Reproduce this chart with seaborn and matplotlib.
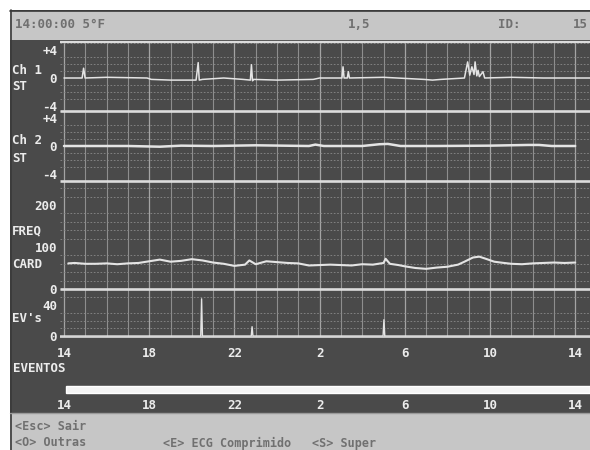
import matplotlib
matplotlib.use("Agg")
import matplotlib.pyplot as plt
import seaborn as sns
from matplotlib.patches import Rectangle
from matplotlib.ticker import MultipleLocator

# ---------------- data ----------------
tick_hours = [0, 4, 8, 12, 16, 20, 24]
tick_labels = ["14", "18", "22", "2", "6", "10", "14"]

ch1_hours = [0.0, 0.85, 0.92, 0.99, 2.0, 3.9, 4.1, 5.0, 6.2, 6.3, 6.35, 6.5,
             7.5, 8.4, 8.75, 8.8, 8.85, 8.9, 10.0, 11.7, 12.0, 13.05, 13.1,
             13.15, 13.3, 13.35, 13.4, 15.0, 16.9, 17.3, 17.7, 18.8, 18.95,
             19.05, 19.15, 19.25, 19.3, 19.38, 19.44, 19.5, 19.67, 19.75,
             21.0, 22.5, 24.7]
ch1_st = [0.0, 0.0, 1.4, 0.0, 0.1, 0.0, -0.2, -0.3, -0.3, 2.2, -0.3, -0.2,
          0.0, -0.2, -0.3, 1.9, -0.4, -0.2, -0.3, -0.2, 0.0, 0.0, 1.6,
          0.0, 0.0, 0.9, 0.0, 0.1, -0.2, -0.3, -0.2, 0.0, 2.3,
          0.4, 1.6, 0.5, 2.3, 0.3, 1.1, 0.2, 0.9, 0.0,
          0.1, 0.0, 0.0]

ch2_hours = [0.0, 3.0, 4.5, 5.5, 7.0, 9.0, 11.5, 11.8, 12.2, 14.0, 14.8,
             15.2, 15.8, 17.5, 20.0, 21.8, 22.3, 22.9, 24.0]
ch2_st = [0.0, 0.0, -0.1, 0.05, 0.0, 0.1, 0.0, 0.2, 0.0, 0.0, 0.25,
          0.3, 0.0, 0.0, 0.05, 0.15, 0.15, 0.0, 0.0]

hr_hours = [0.2, 0.5, 1.0, 1.5, 2.0, 2.5, 3.0, 3.5, 4.0, 4.5,
            5.0, 5.5, 6.0, 6.5, 7.0, 7.5, 8.0, 8.5, 8.7, 9.0,
            9.5, 10.0, 10.5, 11.0, 11.5, 12.0, 12.5, 13.0, 13.5, 14.0,
            14.5, 15.0, 15.1, 15.3, 15.7, 16.0, 16.5, 17.0, 17.5, 18.0,
            18.5, 18.8, 19.2, 19.5, 19.8, 20.2, 20.5, 21.0, 21.5, 22.0,
            22.5, 23.0, 23.5, 24.0]
hr_bpm = [61, 62, 60, 60, 61, 59, 61, 62, 66, 70,
          65, 67, 71, 68, 63, 60, 55, 58, 68, 59,
          66, 64, 62, 61, 56, 57, 58, 57, 56, 59,
          58, 62, 72, 60, 57, 54, 50, 48, 51, 53,
          58, 65, 75, 77, 72, 65, 63, 60, 59, 61,
          62, 63, 62, 63]

ev_hours = [-0.2, 6.42, 6.46, 6.5, 8.79, 8.83, 8.87, 14.98, 15.02, 15.06, 24.7]
ev_count = [0, 0, 48, 0, 0, 12, 0, 0, 21, 0, 0]

event_start, event_end = 0.1, 24.7

# ---------------- style ----------------
W, H = 590, 450
DARK = "#4a4a4a"
LIGHT = "#c6c6c6"
GRID = "#8e8e8e"
TRACE = "#e4e4e4"
WHITE = "#ececec"
HDR_TXT = "#707070"

sns.set_theme(style="dark")
plt.rcParams["font.family"] = ["DejaVu Sans Mono", "DejaVu Sans"]
plt.rcParams["font.weight"] = "bold"

fig = plt.figure(figsize=(W / 100, H / 100), dpi=100)
fig.patch.set_facecolor("white")


def px_axes(x0, y0, x1, y1, **kw):
    return fig.add_axes([x0 / W, 1 - y1 / H, (x1 - x0) / W, (y1 - y0) / H], **kw)


bg = px_axes(0, 0, W, H, zorder=0)
bg.set_xlim(0, W)
bg.set_ylim(H, 0)
bg.axis("off")
bg.add_patch(Rectangle((10, 10), 580, 440, fc=DARK, ec="none"))
bg.add_patch(Rectangle((10, 11), 580, 29, fc=LIGHT, ec="none"))
bg.add_patch(Rectangle((10, 414), 580, 36, fc=LIGHT, ec="none"))
bg.plot([10, 590], [10.5, 10.5], color="#3a3a3a", lw=1.2)
bg.plot([10.5, 10.5], [10, 450], color="#3a3a3a", lw=1.2)
bg.plot([10, 590], [413, 413], color="#9a9a9a", lw=1.0)

T0 = (60 - 64) / 21.3
T1 = (590 - 64) / 21.3


def setup(ax, ylim, yticks, ylabels, ystep):
    ax.set_facecolor("none")
    ax.set_xlim(T0, T1)
    ax.set_ylim(*ylim)
    for s in ax.spines.values():
        s.set_visible(False)
    ax.xaxis.set_minor_locator(MultipleLocator(1))
    ax.set_xticks(tick_hours)
    ax.set_xticklabels([])
    ax.grid(False)
    ax.grid(True, which="minor", axis="x", color=GRID, lw=0.8)
    ax.grid(True, which="major", axis="x", color="#a4a4a4", lw=0.9)
    ax.yaxis.set_minor_locator(MultipleLocator(ystep))
    ax.grid(True, which="minor", axis="y", color="#8a8a8a", lw=0.6,
            linestyle=(0, (2, 2)))
    ax.set_yticks(yticks)
    ax.set_yticklabels(ylabels)
    ax.tick_params(axis="y", which="both", length=0, pad=2, colors=WHITE,
                   labelsize=9)
    ax.tick_params(axis="x", which="both", length=0)
    ax.set_xlabel("")
    ax.set_ylabel("")


ax1 = px_axes(60, 42, 590, 111, zorder=2)
setup(ax1, (-33 / 7, 36 / 7), [-4, 0, 4], ["-4", "0", "+4"], 1)
sns.lineplot(x=ch1_hours, y=ch1_st, ax=ax1, color=TRACE, lw=1.1,
             estimator=None, sort=False)

ax2 = px_axes(60, 111, 590, 181, zorder=2)
setup(ax2, (-5, 5), [-4, 0, 4], ["-4", "0", "+4"], 1)
sns.lineplot(x=ch2_hours, y=ch2_st, ax=ax2, color=TRACE, lw=1.8,
             estimator=None, sort=False)

ax3 = px_axes(60, 181, 590, 289, zorder=2)
setup(ax3, (0, 108 / 0.42), [0, 100, 200], ["0", "100", "200"], 20)
sns.lineplot(x=hr_hours, y=hr_bpm, ax=ax3, color=TRACE, lw=1.5,
             estimator=None, sort=False)

ax4 = px_axes(60, 289, 590, 337, zorder=2)
setup(ax4, (-1 / 0.775, 47 / 0.775), [0, 40], ["0", "40"], 10)
sns.lineplot(x=ev_hours, y=ev_count, ax=ax4, color=TRACE, lw=1.0,
             estimator=None, sort=False)
ax4.set_xticklabels(tick_labels)
ax4.tick_params(axis="x", which="major", length=5, width=0.9, color="#a4a4a4",
                pad=2, labelsize=9, labelcolor=WHITE)

ax5 = px_axes(60, 380, 590, 398, zorder=2)
ax5.set_facecolor("none")
ax5.set_xlim(T0, T1)
ax5.set_ylim(0, 1)
for s in ax5.spines.values():
    s.set_visible(False)
ax5.barh(y=0.47, width=event_end - event_start, left=event_start, height=0.4,
         color="#f4f4f4")
ax5.set_yticks([])
ax5.set_xticks(tick_hours)
ax5.set_xticklabels(tick_labels)
ax5.grid(False)
ax5.tick_params(axis="x", length=0, pad=1, labelsize=9, labelcolor=WHITE)

# overlay: separators and text
ov = px_axes(0, 0, W, H, zorder=5)
ov.set_facecolor("none")
ov.set_xlim(0, W)
ov.set_ylim(H, 0)
ov.axis("off")
for yy, lw in [(42, 1.6), (111, 1.9), (181, 1.9), (289, 1.9), (337, 1.2)]:
    ov.plot([60, 590], [yy, yy], color="#dcdcdc", lw=lw, solid_capstyle="butt")

kw_hdr = dict(color=HDR_TXT, fontsize=9, va="center", ha="left")
ov.text(15, 25, "14:00:00 5°F", **kw_hdr)
ov.text(348, 25, "1,5", **kw_hdr)
ov.text(498, 25, "ID:", **kw_hdr)
ov.text(573, 25, "15", **kw_hdr)

kw_lbl = dict(color=WHITE, fontsize=9, va="center", ha="left")
ov.text(12, 70, "Ch 1", **kw_lbl)
ov.text(12, 87, "ST", **kw_lbl)
ov.text(12, 140, "Ch 2", **kw_lbl)
ov.text(12, 158, "ST", **kw_lbl)
ov.text(12, 231, "FREQ", **kw_lbl)
ov.text(12, 265, "CARD", **kw_lbl)
ov.text(12, 318, "EV's", **kw_lbl)
ov.text(13, 368, "EVENTOS", **kw_lbl)

kw_bot = dict(color=HDR_TXT, fontsize=8.5, va="center", ha="left")
ov.text(15, 427, "<Esc> Sair", **kw_bot)
ov.text(15, 443, "<O> Outras", **kw_bot)
ov.text(163, 443, "<E> ECG Comprimido", **kw_bot)
ov.text(312, 443, "<S> Super", **kw_bot)

fig.savefig("out.png", dpi=100, facecolor=fig.get_facecolor())
